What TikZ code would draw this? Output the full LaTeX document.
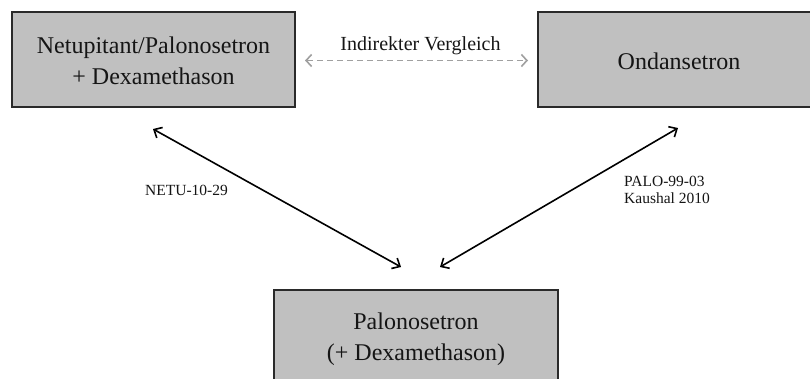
\documentclass[tikz,border=0pt]{standalone}
\usepackage{fontspec}
\setmainfont{Liberation Serif}
\usetikzlibrary{arrows.meta}
\definecolor{boxfill}{HTML}{C0C0C0}
\definecolor{boxline}{HTML}{2A2A2A}
\definecolor{dashgray}{HTML}{A0A0A0}
\definecolor{textdark}{HTML}{151515}
\tikzset{
  drugbox/.style={draw=boxline, line width=1.8pt, fill=boxfill, inner sep=0pt},
  bigtext/.style={font=\fontsize{24}{31}\selectfont, text=textdark, align=center, inner sep=0pt},
  studylabel/.style={font=\fontsize{15.5}{17}\selectfont, text=textdark, align=left, inner sep=0pt},
  link/.style={line width=1.6pt, {Straight Barb[length=6.5pt,width=12pt,line width=1.6pt]}-{Straight Barb[length=6.5pt,width=12pt,line width=1.6pt]}},
  indirect/.style={dashgray, line width=1.5pt, dash pattern=on 6pt off 4pt, {Straight Barb[length=5.5pt,width=12pt,line width=1.6pt]}-{Straight Barb[length=5.5pt,width=12pt,line width=1.6pt]}}
}
\begin{document}
\begin{tikzpicture}[x=1pt,y=-1pt]
\useasboundingbox (0,0) rectangle (810,378);
\clip (0,0) rectangle (810,378);
\fill[white] (0,0) rectangle (810,378);
% boxes
\node[drugbox, minimum width=283pt, minimum height=95pt] (netu) at (153.5,59.5) {};
\node[bigtext] (netutext) at (153.5,61) {Netupitant/Palonosetron\\+ Dexamethason};
\node[drugbox, minimum width=282pt, minimum height=95pt] (onda) at (679,59.5) {};
\node[bigtext] (ondatext) at (679,61.5) {Ondansetron};
\node[drugbox, minimum width=284pt, minimum height=120pt, anchor=north] (palo) at (416,289) {};
\node[bigtext] (palotext) at (416,339) {Palonosetron\\(+ Dexamethason)};
% arrow end points
\coordinate (a1) at (153,129);
\coordinate (a2) at (401,267);
\coordinate (b1) at (678,128);
\coordinate (b2) at (440,267);
\coordinate (c1) at (305,60.5);
\coordinate (c2) at (528,60.5);
\draw[link] (a1) -- (a2);
\draw[link] (b1) -- (b2);
\draw[indirect] (c1) -- (c2);
% labels
\node[font=\fontsize{20}{22}\selectfont, text=textdark, inner sep=0pt] (vgl) at (420.5,45.5) {Indirekter Vergleich};
\node[studylabel, anchor=west] (netulab) at (145,190.5) {NETU-10-29};
\node[studylabel, anchor=north west] (palolab) at (624,176) {PALO-99-03\\Kaushal 2010};
\end{tikzpicture}
\end{document}
